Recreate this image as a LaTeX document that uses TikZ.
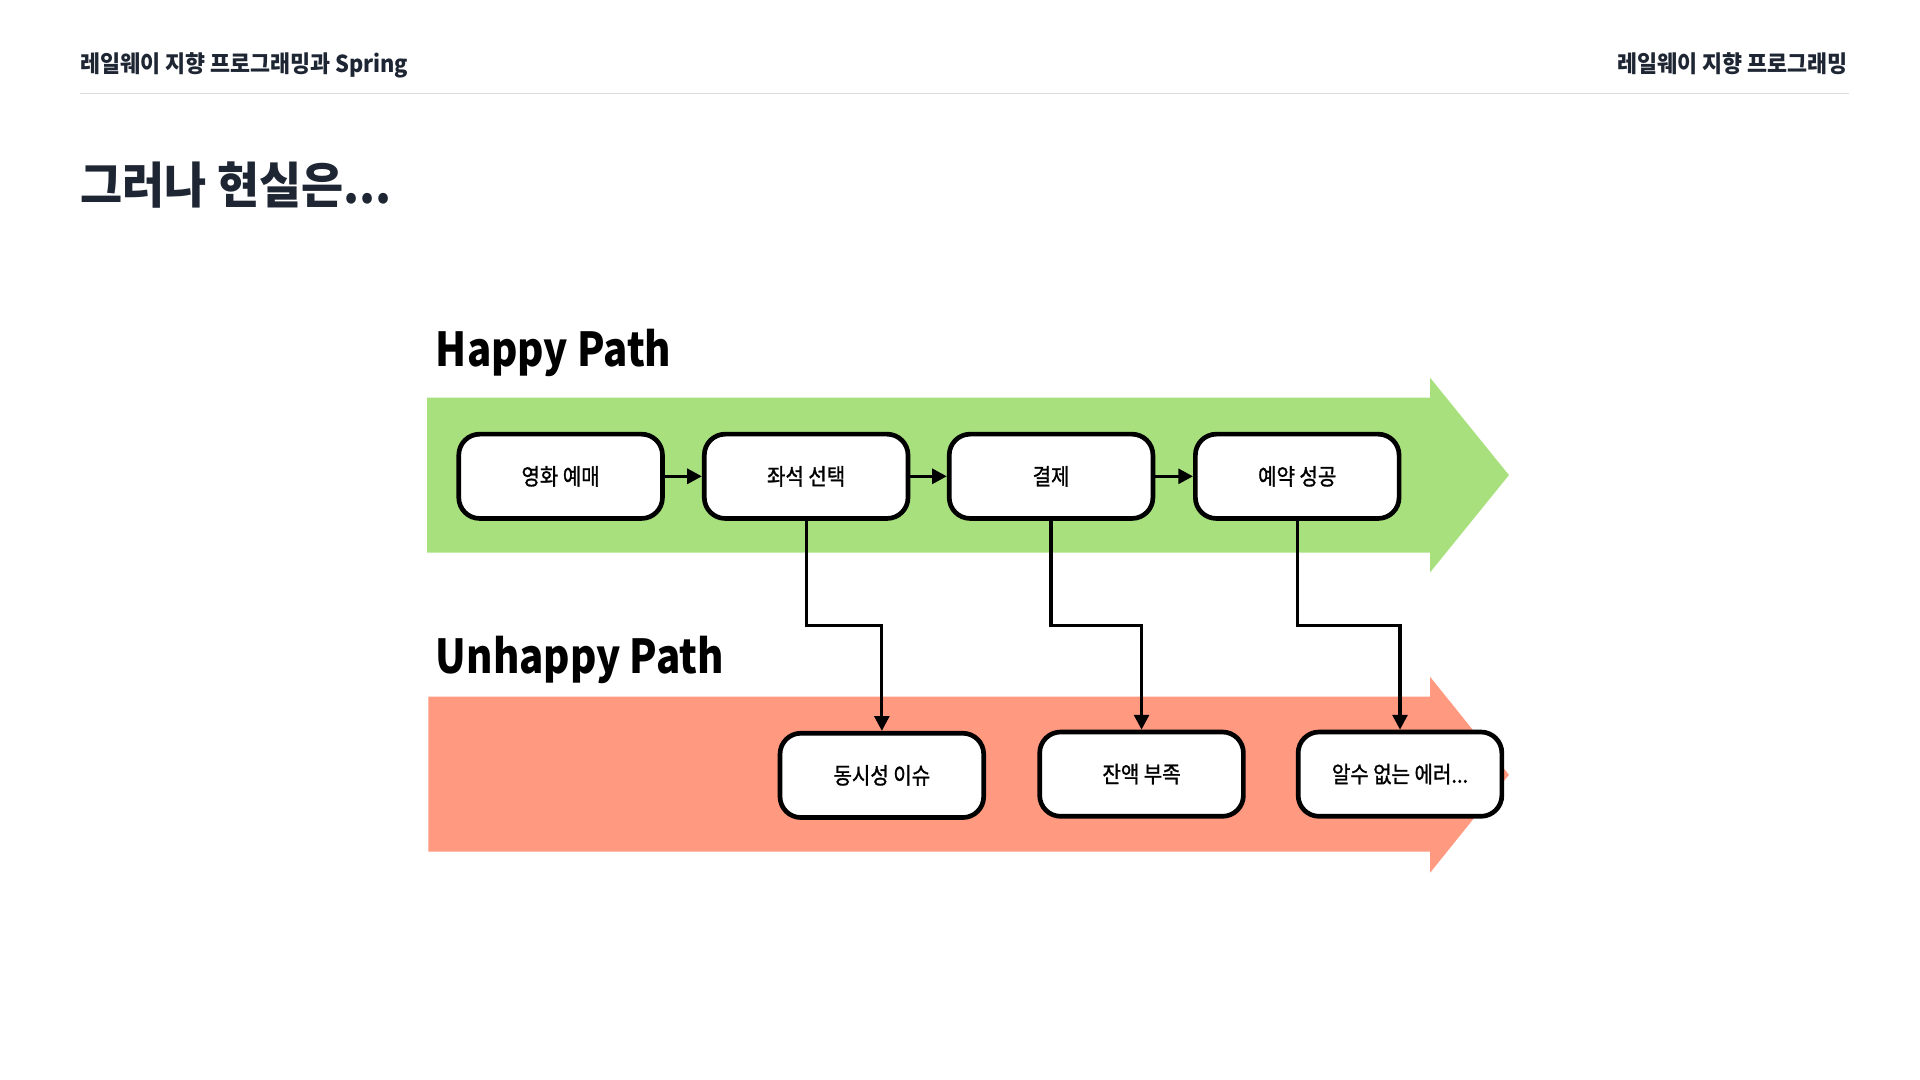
\documentclass[tikz,border=0pt]{standalone}
\usepackage{fontspec}
\setmainfont{Noto Sans CJK KR}
\newfontfamily\kr[FakeStretch=0.93]{Noto Sans CJK KR}
\newfontfamily\krm[FakeStretch=0.88,FakeBold=1.2]{Noto Sans CJK KR}
\newfontfamily\lat[FakeStretch=0.86]{Noto Sans CJK KR}
\usetikzlibrary{arrows.meta}
\definecolor{ink}{HTML}{1E2533}
\definecolor{rulegray}{HTML}{DCDCDC}
\definecolor{happygreen}{RGB}{168,224,126}
\definecolor{unhappyred}{RGB}{255,153,128}
\tikzset{
  stepbox/.style={draw=black, line width=3.8, fill=white, rounded corners=17,
    minimum width=165.5, minimum height=68.5, inner sep=0,
    font=\krm\fontsize{18.5}{18.5}\selectfont, text=black},
  flowarrow/.style={line width=2.8, -{Triangle[length=12,width=12]}},
  failarrow/.style={line width=2.6, -{Triangle[length=12,width=12]}},
  pathtitle/.style={anchor=base west, inner sep=0, text=black,
    font=\lat\bfseries\fontsize{38}{38}\selectfont},
  header/.style={inner sep=0, text=ink, font=\kr\bfseries\fontsize{19}{19}\selectfont}
}
\begin{document}
\begin{tikzpicture}[x=1pt,y=-1pt]
\useasboundingbox[fill=white] (0,0) rectangle (1560,877.5);
% header
\node[header, anchor=base west] (hleft) at (65,59) {레일웨이 지향 프로그래밍과 Spring};
\node[header, anchor=base east] (hright) at (1501,59) {레일웨이 지향 프로그래밍};
\draw[rulegray, line width=1] (65,76) -- (1502,76);
% title
\node[anchor=base west, inner sep=0, text=ink, font=\kr\bfseries\fontsize{40}{40}\selectfont] (title) at (65,165) {그러나 현실은...};
% band arrows
\fill[happygreen] (347,323) -- (1162,323) -- (1162,307) -- (1226,386) -- (1162,465) -- (1162,449) -- (347,449) -- cycle;
\fill[unhappyred] (348,566) -- (1162,566) -- (1162,550) -- (1226,629.5) -- (1162,709) -- (1162,692) -- (348,692) -- cycle;
% path titles
\node[pathtitle] (happy) at (354,298) {Happy Path};
\node[pathtitle] (unhappy) at (354,547) {Unhappy Path};
% happy steps
\node[stepbox] (movie) at (455.5,387) {영화 예매};
\node[stepbox] (seat) at (655,387) {좌석 선택};
\node[stepbox] (pay) at (854,387) {결제};
\node[stepbox] (done) at (1054,387) {예약 성공};
\draw[flowarrow] (movie.east) -- (seat.west);
\draw[flowarrow] (seat.east) -- (pay.west);
\draw[flowarrow] (pay.east) -- (done.west);
% unhappy steps
\node[stepbox] (conc) at (716.5,630) {동시성 이슈};
\node[stepbox] (funds) at (927.5,629) {잔액 부족};
\node[stepbox] (unknown) at (1137.5,629) {알수 없는 에러...};
\coordinate (lvl) at (0,508);
\draw[failarrow] (seat.south) -- (seat.south |- lvl) -| (conc.north);
\draw[failarrow] (pay.south) -- (pay.south |- lvl) -| (funds.north);
\draw[failarrow] (done.south) -- (done.south |- lvl) -| (unknown.north);
\end{tikzpicture}
\end{document}
